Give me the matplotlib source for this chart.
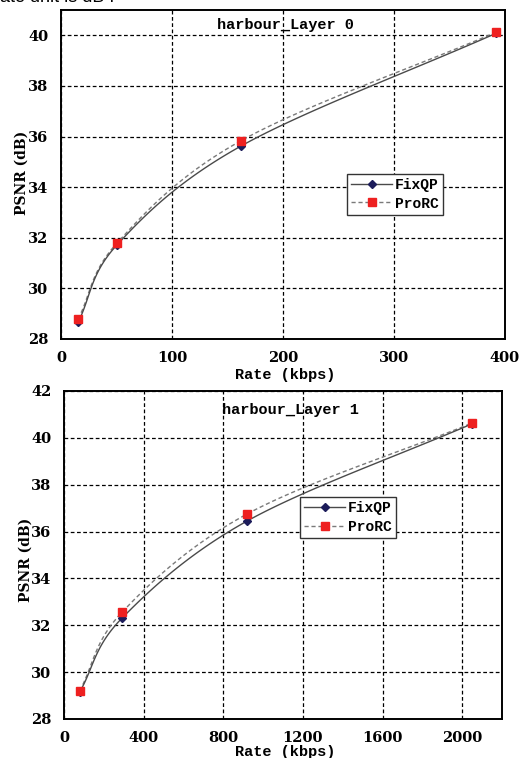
import matplotlib.pyplot as plt
import numpy as np
from matplotlib.lines import Line2D

# rate / PSNR pairs for each layer
rate_l0 = [15.5, 50.5, 162, 392]
fixqp_l0 = [28.67, 31.72, 35.62, 40.08]
prorc_l0 = [28.79, 31.79, 35.83, 40.12]

rate_l1 = [79, 291, 920, 2050]
fixqp_l1 = [29.15, 32.3, 36.45, 40.6]
prorc_l1 = [29.2, 32.55, 36.75, 40.63]

serif = 'DejaVu Serif'
mono = 'Liberation Mono'
fix_color = '#4a4a4a'
pro_color = '#7a7a7a'


def smooth(x, y, xr, yr, n=40):
    """Catmull-Rom curve through the points, done in axis-normalised space."""
    px = np.asarray(x, float) / xr
    py = np.asarray(y, float) / yr
    px = np.concatenate([[2 * px[0] - px[1]], px, [2 * px[-1] - px[-2]]])
    py = np.concatenate([[2 * py[0] - py[1]], py, [2 * py[-1] - py[-2]]])
    t = np.linspace(0, 1, n)[:, None]
    out_x, out_y = [], []
    for i in range(1, len(px) - 2):
        for arr, out in ((px, out_x), (py, out_y)):
            p0, p1, p2, p3 = arr[i - 1:i + 3]
            seg = 0.5 * (2 * p1 + (-p0 + p2) * t + (2 * p0 - 5 * p1 + 4 * p2 - p3) * t ** 2
                         + (-p0 + 3 * p1 - 3 * p2 + p3) * t ** 3)
            out.append(seg.ravel())
    return np.concatenate(out_x) * xr, np.concatenate(out_y) * yr


def draw(ax, rate, fixqp, prorc, xlim, ylim, xticks, yticks, title, title_pos, leg_pos):
    xr = xlim[1] - xlim[0]
    yr = ylim[1] - ylim[0]
    sx, sy = smooth(rate, prorc, xr, yr)
    ax.plot(sx, sy, color=pro_color, lw=1, ls=(0, (3, 2)), zorder=3)
    sx, sy = smooth(rate, fixqp, xr, yr)
    ax.plot(sx, sy, color=fix_color, lw=1, zorder=3)
    ax.plot(rate, fixqp, 'D', color='#1c1c5a', ms=4, zorder=4)
    ax.plot(rate, prorc, 's', color='#ee2020', ms=6, zorder=5)

    ax.set_xlim(xlim)
    ax.set_ylim(ylim)
    ax.set_xticks(xticks)
    ax.set_yticks(yticks)
    ax.grid(True, color='black', ls=(0, (3, 2)), lw=0.9)
    ax.tick_params(length=0, pad=9, labelsize=10.5)
    for lab in ax.get_xticklabels() + ax.get_yticklabels():
        lab.set_fontfamily(serif)
        lab.set_fontweight('bold')
    for sp in ax.spines.values():
        sp.set_linewidth(1.4)
        sp.set_color('black')

    ax.text(title_pos[0], title_pos[1], title, transform=ax.transAxes, ha='center', va='center',
            family=mono, fontsize=11, fontweight='bold')

    handles = [Line2D([], [], color=fix_color, lw=1, marker='D', ms=4,
                      markerfacecolor='#1c1c5a', markeredgecolor='#1c1c5a'),
               Line2D([], [], color=pro_color, lw=1, ls=(0, (3, 2)), marker='s', ms=6,
                      markerfacecolor='#ee2020', markeredgecolor='#ee2020')]
    leg = ax.legend(handles, ['FixQP', 'ProRC'], loc='upper left', bbox_to_anchor=leg_pos,
                    prop={'family': mono, 'weight': 'bold', 'size': 10.5}, fancybox=False,
                    framealpha=1, edgecolor='#333333', borderpad=0.3, handlelength=2.8,
                    handletextpad=0.2, labelspacing=0.3, borderaxespad=0)
    leg.get_frame().set_linewidth(1)


fig = plt.figure(figsize=(5.24, 7.58), dpi=100)
ax0 = fig.add_axes([0.1164, 0.5528, 0.8473, 0.434])
ax1 = fig.add_axes([0.1221, 0.0515, 0.8359, 0.4327])

draw(ax0, rate_l0, fixqp_l0, prorc_l0, (0, 400), (28, 41), np.arange(0, 401, 100),
     np.arange(28, 41, 2), 'harbour_Layer 0', (0.505, 0.955), (0.644, 0.502))
draw(ax1, rate_l1, fixqp_l1, prorc_l1, (0, 2200), (28, 42), np.arange(0, 2001, 400),
     np.arange(28, 43, 2), 'harbour_Layer 1', (0.516, 0.942), (0.539, 0.677))

# axis titles
lab = dict(family=mono, fontsize=11, fontweight='bold', ha='center', va='center')
fig.text(285 / 524, 1 - 375 / 758, 'Rate (kbps)', **lab)
fig.text(285 / 524, 1 - 752 / 758, 'Rate (kbps)', **lab)
ylab = dict(family=serif, fontsize=10, fontweight='bold', ha='center', va='center', rotation=90)
fig.text(22 / 524, 1 - 173 / 758, 'PSNR (dB)', **ylab)
fig.text(26 / 524, 1 - 560 / 758, 'PSNR (dB)', **ylab)

# leftover caption line from the page above
fig.text(-0.012, 1.003, 'rate unit is dB .', family='Liberation Sans', fontsize=13,
         ha='left', va='center')

fig.savefig('out.png', dpi=100)
